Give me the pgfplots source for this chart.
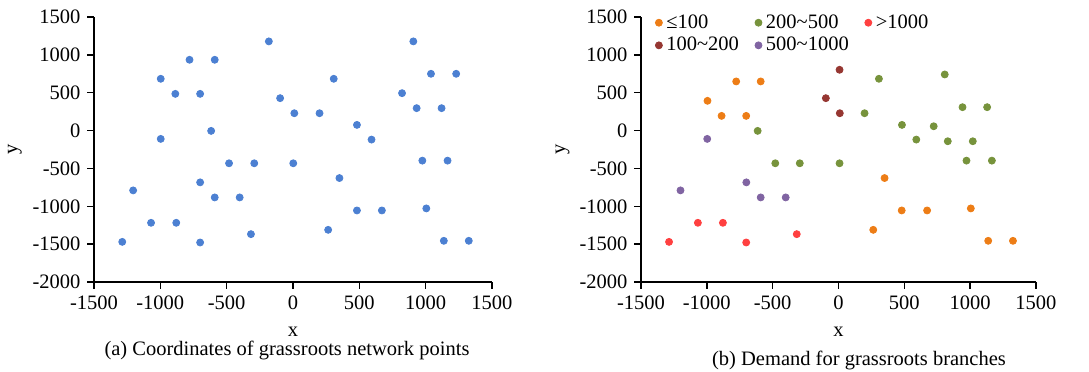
\documentclass[border=0pt]{standalone}
\usepackage{pgfplots}
\pgfplotsset{compat=1.18}
\usepackage{fontspec}
\setmainfont{Liberation Serif}
\definecolor{cblue}{RGB}{76,128,210}
\definecolor{corange}{RGB}{237,125,22}
\definecolor{cbrown}{RGB}{150,55,50}
\definecolor{cgreen}{RGB}{119,147,60}
\definecolor{cpurple}{RGB}{128,100,162}
\definecolor{cred}{RGB}{255,64,64}
\pgfplotsset{
  myaxis/.style={
    scale only axis,
    height=132.5pt,
    xmin=-1500, xmax=1500, ymin=-2000, ymax=1500,
    xtick={-1500,-1000,...,1500},
    ytick={-2000,-1500,...,1500},
    axis x line*=bottom, axis y line*=left,
    axis line style={-, black, line width=0.7pt},
    tick align=outside,
    major tick length=3.3pt,
    tick style={black, line width=0.7pt},
    /pgf/number format/assume math mode=true,
    /pgf/number format/1000 sep={},
    tick label style={font=\fontsize{10.25}{12}\selectfont},
    label style={font=\fontsize{10.25}{12}\selectfont},
    xlabel={x}, ylabel={y},
    xlabel style={at={(axis description cs:0.5,-0.1887)}, anchor=center},
    ylabel style={at={(axis description cs:-0.1985,0.5)}, anchor=center},
    clip=false,
  },
  dot/.style={only marks, mark=*, mark size=1.75pt, mark options={draw=none, fill=#1}, color=#1},
}
\begin{document}
\begin{tikzpicture}
\path[use as bounding box] (0,0) rectangle (544.5pt,185.5pt);
% Left panel
\begin{axis}[myaxis, width=199pt, at={(47pt,44.5pt)}, anchor=south west]
\addplot[dot=cblue] coordinates {
(-1287,-1470) (-1205,-790) (-1070,-1218) (-880,-1218) (-997,684) (-997,-110)
(-887,485) (-780,935) (-700,485) (-590,935) (-617,-4) (-700,-684)
(-590,-883) (-700,-1478) (-482,-432) (-402,-883) (-292,-432) (-317,-1368)
(-182,1178) (-97,428) (10,229) (2,-432) (200,229) (307,684)
(350,-627) (265,-1311) (482,75) (592,-119) (482,-1055) (670,-1055)
(822,494) (907,1178) (932,296) (1040,750) (1120,296) (1230,750)
(975,-397) (1165,-397) (1005,-1028) (1137,-1456) (1325,-1456)
};
\end{axis}
% Right panel
\begin{axis}[myaxis, width=197.5pt, at={(320.5pt,44.5pt)}, anchor=south west,
  legend columns=3,
  legend cell align=left,
  legend style={draw=none, fill=none, at={(axis description cs:0,1)}, anchor=north west,
    xshift=4pt, yshift=5.5pt,
    font=\fontsize{10.25}{12}\selectfont,
    row sep=-1pt,
    /tikz/every even column/.append style={column sep=6pt},
    /tikz/every odd column/.append style={column sep=0pt}},
  legend image code/.code={\draw[mark repeat=2,mark phase=2,#1] plot coordinates {(0pt,0pt) (3pt,0pt) (6pt,0pt)};},
]
\addplot[dot=corange] coordinates {
(-995,393) (-888,194) (-777,649) (-701,194) (-591,649) (350,-627)
(264,-1311) (480,-1055) (673,-1055) (1005,-1028) (1137,-1456) (1325,-1456)
};
\addlegendentry{≤100}
\addplot[dot=cgreen] coordinates {
(-614,-4) (-480,-432) (-294,-432) (8,-432) (198,229) (307,684)
(482,75) (591,-119) (723,57) (807,741) (830,-141) (942,309)
(1020,-141) (1129,309) (972,-397) (1165,-397)
};
\addlegendentry{200\textasciitilde 500}
\addplot[dot=cred] coordinates {
(-1287,-1470) (-1068,-1218) (-878,-1218) (-701,-1478) (-317,-1368)
};
\addlegendentry{>1000}
\addplot[dot=cbrown] coordinates {
(8,803) (-96,428) (10,229)
};
\addlegendentry{100\textasciitilde 200}
\addplot[dot=cpurple] coordinates {
(-997,-110) (-1200,-790) (-700,-684) (-591,-883) (-401,-883)
};
\addlegendentry{500\textasciitilde 1000}
\end{axis}
\node[font=\fontsize{10.25}{12}\selectfont, anchor=center] at (143.5pt,10.5pt) {(a) Coordinates of grassroots network points};
\node[font=\fontsize{10.25}{12}\selectfont, anchor=center] at (429.5pt,5.5pt) {(b) Demand for grassroots branches};
\end{tikzpicture}
\end{document}
